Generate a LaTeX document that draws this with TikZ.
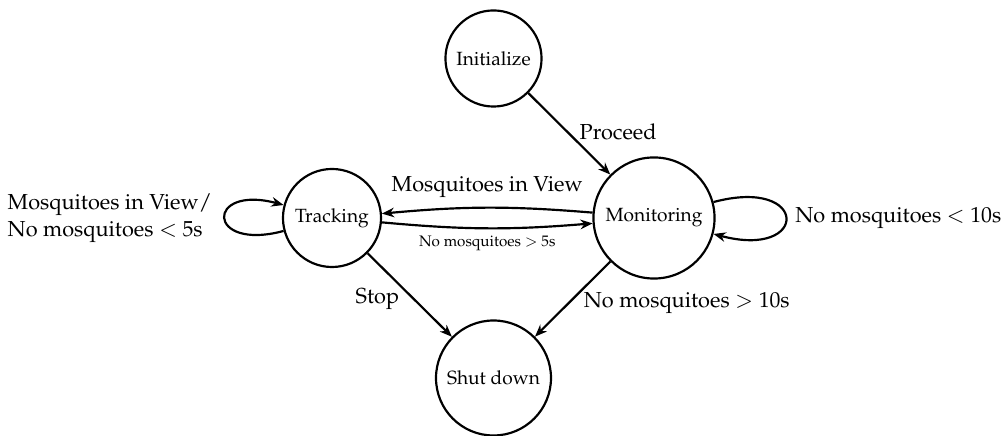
\documentclass[tikz,border=0pt]{standalone}
\usepackage[T1]{fontenc}
\usepackage{mathpazo}
\usetikzlibrary{arrows.meta}
\tikzset{
  statenode/.style={draw, circle, line width=1pt, inner sep=0pt, font=\fontsize{8.8}{10.6}\selectfont},
  trans/.style={line width=1pt, -{Stealth[length=5.6pt, width=4.4pt, inset=1.8pt]}},
  lbl/.style={inner sep=0.5pt, font=\fontsize{10}{12.4}\selectfont},
  smalllbl/.style={inner sep=0pt, font=\scriptsize}
}
\begin{document}
\begin{tikzpicture}[x=0.46pt, y=-0.46pt]
\useasboundingbox (0,0) rectangle (1001,436);
\node[statenode, minimum size=44.2pt] (init) at (493.5,58.5) {Initialize};
\node[statenode, minimum size=45.1pt] (track) at (332,218) {Tracking};
\node[statenode, minimum size=55.7pt] (mon) at (654,218) {Monitoring};
\node[statenode, minimum size=52.9pt] (shut) at (493.5,378) {Shut down};

\draw[trans] (init) -- node[lbl, pos=0.6, anchor=south west] {Proceed} (mon);
\draw[trans] (mon) to[bend right=5] node[lbl, midway, anchor=base, inner sep=0pt, yshift=7.4pt] {Mosquitoes in View} (track);
\draw[trans] (track) to[bend right=5] node[smalllbl, midway, anchor=north, yshift=-3.2pt] {No mosquitoes $>$ 5s} (mon);
\draw[trans] (track) to[loop left] node[lbl, midway, anchor=east, align=left, inner sep=0pt, xshift=-5.5pt] {Mosquitoes in View/\\No mosquitoes $<$ 5s} (track);
\draw[trans] (mon) to[loop right] node[lbl, midway, anchor=west, inner sep=0pt, xshift=4pt] {No mosquitoes $<$ 10s} (mon);
\draw[trans] (track) -- node[lbl, pos=0.4, anchor=north east] {Stop} (shut);
\draw[trans] (mon) -- node[lbl, pos=0.38, anchor=north west] {No mosquitoes $>$ 10s} (shut);
\end{tikzpicture}
\end{document}
